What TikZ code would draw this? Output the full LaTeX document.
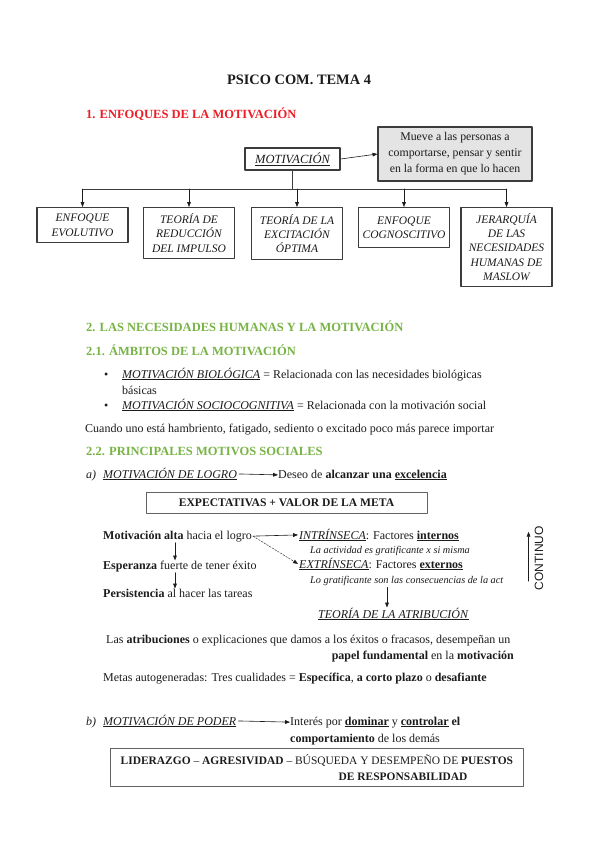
\documentclass[tikz,border=0pt]{standalone}
\usepackage{fontspec}
\setmainfont{Liberation Serif}
\newfontfamily\contfont{Liberation Sans}
\usetikzlibrary{arrows.meta,positioning,calc}
\definecolor{headred}{HTML}{EE1C25}
\definecolor{headgreen}{HTML}{78B445}
\definecolor{notegray}{HTML}{E4E4E4}
\definecolor{ink}{HTML}{1C1C1C}
\definecolor{frame}{HTML}{3C3C3C}
\tikzset{
    every picture/.style={line cap=round,line join=round},
    pagetitle/.style={anchor=base,inner sep=0pt,text=ink,
      font=\fontsize{14.4}{17}\selectfont\bfseries},
    redhead/.style={anchor=base west,inner sep=0pt,text=headred,
      font=\fontsize{12.5}{15}\selectfont\bfseries},
    greenhead/.style={anchor=base west,inner sep=0pt,text=headgreen,
      font=\fontsize{12.5}{15}\selectfont\bfseries},
    bodytext/.style={anchor=base west,inner sep=0pt,text=ink,
      font=\fontsize{12}{14}\selectfont},
    notetext/.style={bodytext,font=\fontsize{10.3}{12}\selectfont\itshape},
    motivbox/.style={draw=frame,line width=1.2pt,minimum width=95pt,
      minimum height=22pt,inner sep=2pt,text=ink,
      font=\fontsize{12.5}{14}\selectfont\itshape},
    notebox/.style={draw=frame,fill=notegray,line width=1.2pt,
      minimum width=154pt,minimum height=54pt,inner sep=2pt,align=center,
      text=ink,font=\fontsize{11.8}{16}\selectfont},
    optbox/.style={draw=frame,line width=1.2pt,anchor=north,
      minimum width=91pt,inner sep=2pt,align=center,text=ink,
      font=\fontsize{11.5}{14.4}\selectfont\itshape},
    framebox/.style={draw=frame!80,line width=0.8pt,inner sep=2pt,text=ink,
      font=\fontsize{11.6}{16}\selectfont},
    treeline/.style={draw=frame,line width=0.8pt},
    flowarrow/.style={-{Triangle[length=1.7mm,width=1.3mm]},draw=ink,
      line width=0.6pt},
    hintarrow/.style={flowarrow,line width=0.4pt,dash pattern=on 2pt off 1.2pt}
}

\begin{document}
\begin{tikzpicture}[x=1pt,y=-1pt]
  \useasboundingbox[fill=white] (0,0) rectangle (599,848);

  \node[pagetitle] (title) at (299,85) {PSICO COM. TEMA 4};
  \node[redhead] (h1) at (86,119) {1. ENFOQUES DE LA MOTIVACIÓN};

  % mapa de enfoques
  \node[motivbox] (motiv) at (292.5,159) {\underline{MOTIVACIÓN}};
  \node[notebox] (mueve) at (455,154)
    {Mueve a las personas a\\comportarse, pensar y sentir\\en la forma en que lo hacen};
  \draw[flowarrow] (motiv.east) -- (mueve.west);

  \node[optbox,minimum height=35pt] (evol) at (82.5,207) {ENFOQUE\\EVOLUTIVO};
  \node[optbox,minimum height=51pt] (impulso) at (189,207) {TEORÍA DE\\REDUCCIÓN\\DEL IMPULSO};
  \node[optbox,minimum height=52pt] (excit) at (297,207) {TEORÍA DE LA\\EXCITACIÓN\\ÓPTIMA};
  \node[optbox,minimum height=40pt] (cogn) at (404,207) {ENFOQUE\\COGNOSCITIVO};
  \node[optbox,minimum height=79pt] (maslow) at (506.5,207)
    {JERARQUÍA\\DE LAS\\NECESIDADES\\HUMANAS DE\\MASLOW};

  \coordinate (bus) at (0,189);
  \draw[treeline] (motiv.south) -- (motiv.south |- bus);
  \draw[treeline] (bus -| evol.north) -- (bus -| maslow.north);
  \foreach \b in {evol,impulso,excit,cogn,maslow}
    \draw[flowarrow] (bus -| \b.north) -- (\b.north);

  % necesidades
  \node[greenhead] (h2) at (86,331) {2. LAS NECESIDADES HUMANAS Y LA MOTIVACIÓN};
  \node[greenhead] (h21) at (86,355) {2.1. ÁMBITOS DE LA MOTIVACIÓN};
  \node[bodytext] (dot1) at (104,378) {\textbullet};
  \node[bodytext] (bio) at (122,378)
    {\underline{\textit{MOTIVACIÓN BIOLÓGICA}} = Relacionada con las necesidades biológicas};
  \node[bodytext] (bio2) at (122,394) {básicas};
  \node[bodytext] (dot2) at (104,409) {\textbullet};
  \node[bodytext] (socio) at (122,409)
    {\underline{\textit{MOTIVACIÓN SOCIOCOGNITIVA}} = Relacionada con la motivación social};
  \node[bodytext] (cuando) at (85,432)
    {Cuando uno está hambriento, fatigado, sediento o excitado poco más parece importar};

  \node[greenhead] (h22) at (86,455) {2.2. PRINCIPALES MOTIVOS SOCIALES};

  % a) logro
  \node[bodytext] (la) at (86,478) {\textit{a)}};
  \node[bodytext] (logro) at (103,478) {\underline{\textit{MOTIVACIÓN DE LOGRO}}};
  \node[bodytext] (deseo) at (278,478)
    {Deseo de \textbf{alcanzar una} \underline{\textbf{excelencia}}};
  \draw[flowarrow] ([xshift=2pt]logro.east) -- (deseo.west);

  \node[framebox,minimum width=281pt,minimum height=21pt] (expect) at (286.5,503)
    {\textbf{EXPECTATIVAS + VALOR DE LA META}};

  \node[bodytext] (alta) at (103,539) {\textbf{Motivación alta} hacia el logro};
  \node[bodytext] (esper) at (103,569) {\textbf{Esperanza} fuerte de tener éxito};
  \node[bodytext] (persist) at (103,597) {\textbf{Persistencia} al hacer las tareas};
  \coordinate (downx) at (175,0);
  \draw[flowarrow] ([yshift=-1pt]alta.south -| downx) -- (esper.north -| downx);
  \draw[flowarrow] ([yshift=-1pt]esper.south -| downx) -- (persist.north -| downx);

  \node[bodytext] (intr) at (299,539)
    {\underline{\textit{INTRÍNSECA}}: Factores \underline{\textbf{internos}}};
  \node[notetext] (intr2) at (310,553) {La actividad es gratificante x si misma};
  \node[bodytext] (extr) at (299,568)
    {\underline{\textit{EXTRÍNSECA}}: Factores \underline{\textbf{externos}}};
  \node[notetext] (extr2) at (310,583) {Lo gratificante son las consecuencias de la act};
  \draw[flowarrow] ([xshift=1pt]alta.east) -- ([xshift=-1pt]intr.west);
  \draw[hintarrow] ([xshift=1pt]alta.east) -- ([xshift=-1pt]extr.west);

  \node[bodytext] (atrib) at (318,618) {\underline{\textit{TEORÍA DE LA ATRIBUCIÓN}}};
  \coordinate (atribx) at (387,0);
  \draw[flowarrow] ([yshift=-2pt]extr2.south -| atribx) -- (atrib.north -| atribx);

  \node[rotate=90,inner sep=0pt,text=ink,font=\contfont\fontsize{12}{14}\selectfont]
    (continuo) at (539,558) {CONTINUO};
  \draw[flowarrow,line width=0.5pt] ([xshift=-6pt,yshift=9pt]continuo.north west)
    -- ([xshift=-6pt,yshift=-6pt]continuo.north east);

  \node[bodytext] (atr1) at (106,643)
    {Las \textbf{atribuciones} o explicaciones que damos a los éxitos o fracasos, desempeñan un};
  \node[bodytext,anchor=base east] (atr2) at (514,659)
    {\textbf{papel fundamental} en la \textbf{motivación}};
  \node[bodytext] (metas) at (103,681)
    {Metas autogeneradas: Tres cualidades = \textbf{Específica}, \textbf{a corto plazo} o \textbf{desafiante}};

  % b) poder
  \node[bodytext] (lb) at (86,725) {\textit{b)}};
  \node[bodytext] (poder) at (103,725) {\underline{\textit{MOTIVACIÓN DE PODER}}};
  \node[bodytext] (interes) at (290,725)
    {Interés por \underline{\textbf{dominar}} y \underline{\textbf{controlar}} \textbf{el}};
  \node[bodytext] (comport) at (290,742) {\textbf{comportamiento} de los demás};
  \draw[flowarrow] ([xshift=2pt]poder.east) -- (interes.west);

  \node[framebox,anchor=north west,minimum width=413pt,minimum height=38pt,
    align=left,inner xsep=8pt,font=\fontsize{11.45}{16}\selectfont] (lider) at (110,748)
    {\textbf{LIDERAZGO} -- \textbf{AGRESIVIDAD} -- BÚSQUEDA Y DESEMPEÑO DE \textbf{PUESTOS}\\
     \hspace*{218pt}\textbf{DE RESPONSABILIDAD}};
\end{tikzpicture}
\end{document}
